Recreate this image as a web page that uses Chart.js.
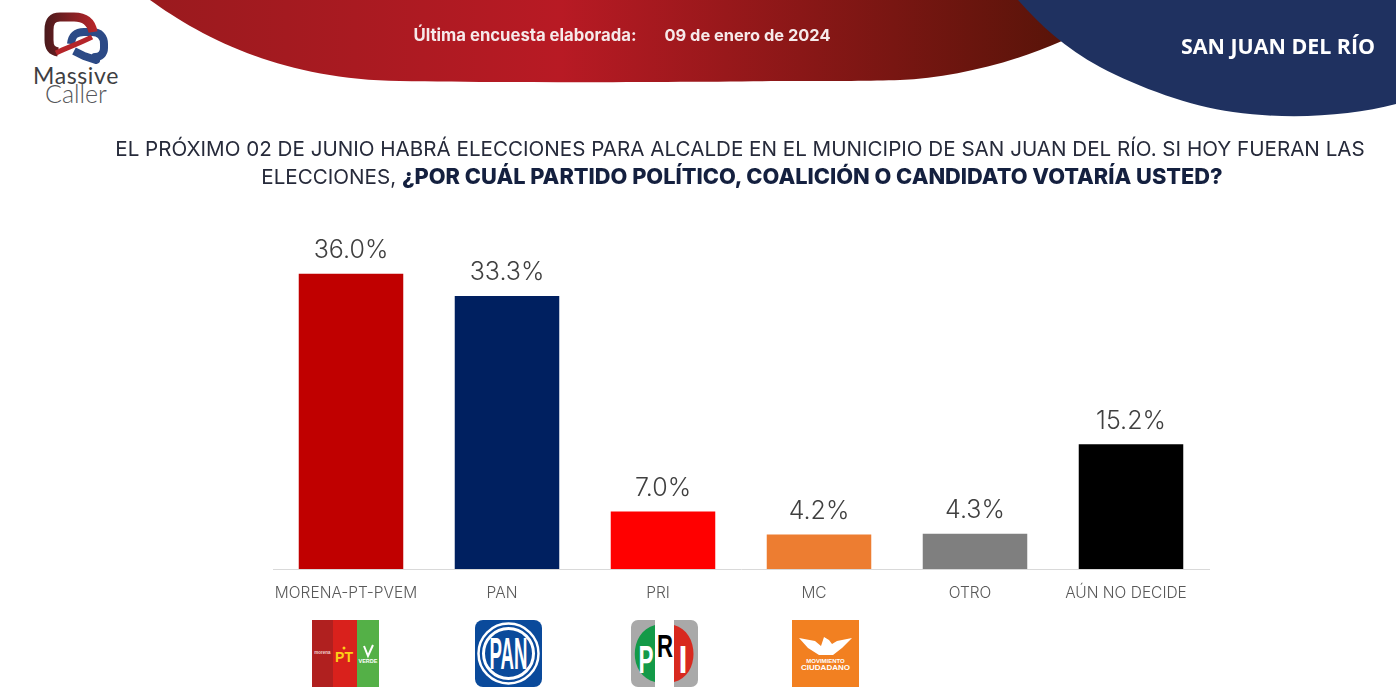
<!DOCTYPE html>
<html lang="es">
<head>
<meta charset="utf-8">
<title>San Juan del Río</title>
<script src="https://cdn.jsdelivr.net/npm/chart.js@4"></script>
<style>
  html, body { margin: 0; padding: 0; background: #fff; }
  #page { position: relative; width: 1396px; height: 698px; overflow: hidden; font-family: "Inter", sans-serif; }
  #page > * { position: absolute; }
  #chart { left: 0; top: 0; width: 1396px; height: 698px; }
  .line { white-space: nowrap; transform: translateX(-50%); }
  #enc1, #enc2 { color: #f6eaea; font-weight: 700; }
  #enc1 { left: 525px; top: 25px; font-size: 16.700px; }
  #enc2 { left: 747.500px; top: 25px; font-size: 16.400px; }
  #place { left: 1278px; top: 31px; color: #fff; font: 700 21.400px "Open Sans", sans-serif; }
  #q1 { left: 740px; top: 136px; color: #262a3a; font-size: 20.600px; }
  #q2 { left: 742px; top: 163px; color: #262a3a; font-size: 20.600px; }
  #q2 b { color: #14203f; font-weight: 800; font-size: 21.800px; }
</style>
</head>
<body>
<div id="page">
  <svg style="left:0;top:0" width="1396" height="698" viewBox="0 0 1396 698">
    <defs>
      <linearGradient id="red" x1="150" x2="1060" y1="0" y2="0" gradientUnits="userSpaceOnUse">
        <stop offset="0" stop-color="#9a1a1e"/>
        <stop offset="0.45" stop-color="#b81a24"/>
        <stop offset="1" stop-color="#591409"/>
      </linearGradient>
      <linearGradient id="ribbonRed" x1="45" x2="95" y1="0" y2="0" gradientUnits="userSpaceOnUse">
        <stop offset="0" stop-color="#4a1a1c"/>
        <stop offset="1" stop-color="#b5252a"/>
      </linearGradient>
    </defs>
    <!-- header shapes -->
    <path fill="url(#red)" d="M150 0 C200 36 280 80 400 81 C500 83 680 82 780 81 C840 81 870 81 900 80 C950 78 1010 64 1062 41 L1030 0 Z"/>
    <path fill="#1f3160" d="M1018 0 C1040 25 1065 48 1100 67 C1140 88 1190 106 1233 112 C1290 120 1350 116 1396 104 L1396 0 Z"/>

    <!-- Massive Caller logo -->
    <path fill="none" stroke="#2c4a86" stroke-width="8" stroke-linejoin="round" d="M71 44 C72 35 76 32 84 32 L92 32 C100 32 104 37 104 44 L104 48 C104 54 100 57 95 57 L96 60 L84 56 L74 51"/>
    <path fill="none" stroke="url(#ribbonRed)" stroke-width="9" stroke-linejoin="round" d="M93 32 C91 21 84 17 74 17 L60 17 C52 17 49 22 49 30 L49 40 C49 48 52 51 58 52"/>
    <path fill="none" stroke="#b5252a" stroke-width="5" d="M56 53 C66 48 78 44 92 37"/>
    <text x="76" y="84" text-anchor="middle" font-family="Lato, sans-serif" font-size="23" letter-spacing="0.6" fill="#3e3e42">Massive</text>
    <text x="76" y="103" text-anchor="middle" font-family="Lato, sans-serif" font-weight="300" font-size="25" fill="#55565a">Caller</text>

    <!-- party logos -->
    <g font-family="Liberation Sans, sans-serif" font-weight="700" text-anchor="middle">
      <rect x="312" y="620" width="21" height="67" fill="#b0201f"/>
      <rect x="333" y="620" width="24" height="67" fill="#d9211c"/>
      <rect x="357" y="620" width="22" height="67" fill="#54b047"/>
      <text x="322.500" y="654" font-size="4.500" fill="#f2d0d0">morena</text>
      <circle cx="344" cy="648" r="1.500" fill="#fdd017"/>
      <text x="344" y="662" font-size="14" fill="#fdd017">PT</text>
      <text x="368" y="663" font-size="5.500" fill="#fff">VERDE</text>
      <path d="M364 646 L368 656 L373 645" fill="none" stroke="#fff" stroke-width="2"/>

      <rect x="475" y="620" width="67" height="67" rx="8" fill="#0a4a9b"/>
      <circle cx="508.500" cy="653.500" r="30" fill="none" stroke="#fff" stroke-width="2.500"/>
      <circle cx="508.500" cy="653.500" r="25" fill="#0a4a9b" stroke="#fff" stroke-width="3"/>
      <text x="508.500" y="669" font-size="44" textLength="38" lengthAdjust="spacingAndGlyphs" fill="#fff">PAN</text>

      <rect x="631" y="620" width="67" height="67" rx="7" fill="#a9a9a9"/>
      <rect x="655" y="620" width="19" height="67" fill="#fff"/>
      <path d="M655 625 C628 632 628 676 655 682 Z" fill="#139a48"/>
      <path d="M674 625 C700 632 700 676 674 682 Z" fill="#d8291f"/>
      <text x="646" y="673" font-size="39" textLength="15" lengthAdjust="spacingAndGlyphs" fill="#fff">P</text>
      <text x="665" y="657" font-size="31" textLength="16" lengthAdjust="spacingAndGlyphs" fill="#000">R</text>
      <text x="683" y="673" font-size="39" textLength="9" lengthAdjust="spacingAndGlyphs" fill="#fff">I</text>

      <rect x="792" y="620" width="67" height="67" fill="#f28021"/>
      <path d="M799 638 L815 641 L821 646 L824 637 L829 640 L832 644 L837 641 L852 638 L842 648 L833 655 L819 655 L808 648 Z" fill="#fff"/>
      <text x="825.500" y="663" font-size="6" fill="#fff">MOVIMIENTO</text>
      <text x="825.500" y="670" font-size="8" fill="#fff">CIUDADANO</text>
    </g>
  </svg>

  <canvas id="chart" width="1396" height="698"></canvas>

  <div id="enc1" class="line">Última encuesta elaborada:</div>
  <div id="enc2" class="line">09 de enero de 2024</div>
  <div id="place" class="line">SAN JUAN DEL RÍO</div>
  <div id="q1" class="line">EL PRÓXIMO 02 DE JUNIO HABRÁ ELECCIONES PARA ALCALDE EN EL MUNICIPIO DE SAN JUAN DEL RÍO. SI HOY FUERAN LAS</div>
  <div id="q2" class="line">ELECCIONES, <b>¿POR CUÁL PARTIDO POLÍTICO, COALICIÓN O CANDIDATO VOTARÍA USTED?</b></div>
</div>

<script>
// Chart data
const categories = ['MORENA-PT-PVEM', 'PAN', 'PRI', 'MC', 'OTRO', 'AÚN NO DECIDE'];
const values = [36.0, 33.3, 7.0, 4.2, 4.3, 15.2];
const barColors = ['#c00000', '#002060', '#ff0000', '#ed7d31', '#7f7f7f', '#000000'];

// Percent labels above the bars
const barLabels = {
    id: 'barLabels',
    afterDatasetsDraw(chart) {
        const ctx = chart.ctx;
        ctx.save();
        ctx.font = '300 25px "Inter", sans-serif';
        ctx.fillStyle = '#404040';
        ctx.textAlign = 'center';
        ctx.textBaseline = 'middle';
        chart.getDatasetMeta(0).data.forEach((bar, i) => {
            ctx.fillText(values[i].toFixed(1) + '%', bar.x, bar.y - 23);
        });
        ctx.restore();
    }
};

new Chart(document.getElementById('chart'), {
    type: 'bar',
    data: {
        labels: categories,
        datasets: [{
            data: values,
            backgroundColor: barColors,
            barPercentage: 1,
            categoryPercentage: 0.67
        }]
    },
    options: {
        responsive: false,
        animation: false,
        layout: { padding: { left: 273, right: 187, top: 241, bottom: 0 } },
        plugins: { legend: { display: false }, tooltip: { enabled: false } },
        scales: {
            x: {
                afterFit: scale => { scale.height = 129; },
                grid: { display: false },
                border: { color: '#d9d9d9', width: 1 },
                ticks: {
                    color: '#595959',
                    padding: 7,
                    labelOffset: -5,
                    maxRotation: 0,
                    autoSkip: false,
                    font: { family: '"Inter", sans-serif', size: 15.5, weight: 300 }
                }
            },
            y: { display: false, min: 0, max: 40 }
        }
    },
    plugins: [barLabels]
});
</script>
</body>
</html>
